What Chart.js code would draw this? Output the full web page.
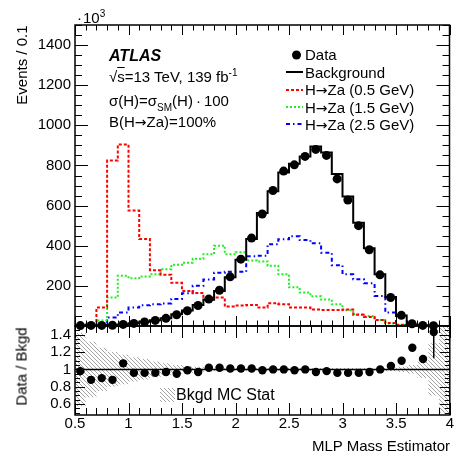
<!DOCTYPE html>
<html lang="en">
<head>
<meta charset="UTF-8">
<title>MLP Mass Estimator</title>
<script src="https://cdn.jsdelivr.net/npm/chart.js"></script>
<style>
  body { margin: 0; background: #fff; }
  #wrap { position: relative; width: 454px; height: 455px; overflow: hidden; font-family: "Liberation Sans", Arial, sans-serif; color: #000; }
  canvas { position: absolute; left: 0; }
  .t { position: absolute; font-size: 15px; line-height: 15px; white-space: nowrap; }
  .sup { position: relative; top: -6px; font-size: 10px; }
  .sub { position: relative; top: 5px; font-size: 10px; }
  .ar { font-family: "DejaVu Sans", sans-serif; font-size: 14px; }
</style>
</head>
<body>
<div id="wrap">
  <canvas id="main" width="454" height="335" style="top:0"></canvas>
  <canvas id="ratio" width="454" height="135" style="top:320px"></canvas>

  <div class="t" style="left:77px;top:10px">&middot;<span style="margin-left:1px">10</span><span class="sup">3</span></div>

  <div class="t" style="left:109px;top:48px;font-size:16px;line-height:16px;font-weight:bold;font-style:italic">ATLAS</div>
  <div class="t" style="left:109px;top:69px">&radic;<span style="text-decoration:overline">s</span>=13 TeV, 139 fb<span class="sup">-1</span></div>
  <div class="t" style="left:109px;top:93px">&sigma;(H)=&sigma;<span class="sub">SM</span>(H)&thinsp;&middot;&thinsp;100</div>
  <div class="t" style="left:109px;top:114px">B(H<span class="ar">&rarr;</span>Za)=100%</div>

  <div class="t" style="left:305px;top:47px">Data</div>
  <div class="t" style="left:305px;top:65px">Background</div>
  <div class="t" style="left:305px;top:82px">H<span class="ar">&rarr;</span>Za (0.5 GeV)</div>
  <div class="t" style="left:305px;top:100px">H<span class="ar">&rarr;</span>Za (1.5 GeV)</div>
  <div class="t" style="left:305px;top:117px">H<span class="ar">&rarr;</span>Za (2.5 GeV)</div>

  <div class="t" style="left:-39px;top:78px;width:120px;text-align:right;transform:rotate(-90deg)">Events / 0.1</div>
  <div class="t" style="left:-39px;top:359px;width:120px;text-align:center;transform:rotate(-90deg)">Data / Bkgd</div>
  <div class="t" style="right:4px;top:438px">MLP Mass Estimator</div>
  <div class="t" style="left:176px;top:387px;font-size:16px;line-height:16px">Bkgd MC Stat</div>
</div>

<script>
// bins of the MLP mass estimator (lower edges), width 0.1
const binLo = [0.5, 0.6, 0.7, 0.8, 0.9, 1.0, 1.1, 1.2, 1.3, 1.4, 1.5, 1.6, 1.7, 1.8, 1.9,
               2.0, 2.1, 2.2, 2.3, 2.4, 2.5, 2.6, 2.7, 2.8, 2.9, 3.0, 3.1, 3.2, 3.3, 3.4,
               3.5, 3.6, 3.7, 3.8, 3.9];
const binW = 0.1;

// events / 0.1, in units of 10^3
const dataEvents = [2, 3, 3, 4, 8, 13, 20, 28, 38, 56, 76, 102, 134, 178, 245,
                    333, 438, 558, 675, 772, 803, 845, 880, 850, 733, 628, 500, 380, 255, 142,
                    53, 11, 3, 1, null];
const bkgdEvents = [2, 3.5, 3.5, 4.5, 7.5, 13.5, 21, 29, 39, 59, 77, 105, 131, 175, 243,
                    330, 434, 563, 672, 765, 808, 845, 895, 865, 757, 645, 515, 388, 258, 145,
                    52, 7, 2.5, 0.8, 0.3];
const sig05 = [2, 8, 92, 825, 905, 575, 433, 278, 255, 215, 175, 165, 142, 142, 97,
               102, 105, 92, 113, 108, 92, 92, 82, 80, 80, 82, 56, 45, 30, 15,
               6, 4, 2, 1, 0];
const sig15 = [0, 2, 28, 142, 250, 238, 247, 258, 283, 305, 315, 335, 358, 400, 358,
               368, 327, 322, 300, 258, 193, 167, 148, 132, 108, 78, 58, 50, 30, 12,
               5, 3, 1, 0.5, 0];
const sig25 = [0, 1, 3, 42, 67, 92, 103, 108, 112, 135, 163, 200, 232, 265, 270,
               270, 348, 350, 408, 432, 447, 428, 412, 365, 303, 258, 233, 213, 150, 67,
               5, 2, 1, 0, 0];

// lower panel
const ratio = [0.98, 0.88, 0.90, 0.88, 1.07, 0.96, 0.96, 0.96, 0.97, 0.95, 0.99, 0.97, 1.02, 1.02, 1.01,
               1.01, 1.01, 0.99, 1.00, 1.00, 0.99, 1.00, 0.97, 0.98, 0.96, 0.96, 0.96, 0.97, 1.00, 1.04,
               1.10, 1.25, 1.12, 1.43, null];
const ratioErr = [0.05, 0.03, 0.02, 0.02, 0.015, 0, 0, 0, 0, 0, 0, 0, 0, 0, 0,
                  0, 0, 0, 0, 0, 0, 0, 0, 0, 0, 0, 0, 0, 0, 0,
                  0, 0, 0, 0.3, 0];
const bkgdStatErr = [0.42, 0.32, 0.25, 0.20, 0.17, 0.14, 0.12, 0.09, 0.07, 0.05, 0.04, 0.03, 0.025, 0.02, 0.015,
                     0.015, 0.015, 0.015, 0.015, 0.015, 0.015, 0.015, 0.015, 0.015, 0.015, 0.015, 0.015, 0.015, 0.015, 0.02,
                     0.03, 0.05, 0.10, 0.30, 0.50];

const mainYTicks = [200, 400, 600, 800, 1000, 1200, 1400];
const ratioYTicks = [0.6, 0.8, 1, 1.2, 1.4];
const xTicks = [0.5, 1, 1.5, 2, 2.5, 3, 3.5, 4];

const FONT = { family: '"Liberation Sans", Arial, sans-serif', size: 15 };
const RED = '#ff0000', GREEN = '#22ee22', BLUE = '#0000ff';

function histPoints(vals) {
  const pts = vals.map((v, i) => ({ x: binLo[i], y: v }));
  pts.push({ x: binLo[binLo.length - 1] + binW, y: vals[vals.length - 1] });
  return pts;
}
function centerPoints(vals) {
  return vals.map((v, i) => ({ x: binLo[i] + binW / 2, y: v })).filter(p => p.y !== null);
}

// hatch pattern for the MC stat band
function hatch() {
  const c = document.createElement('canvas');
  c.width = c.height = 4;
  const g = c.getContext('2d');
  g.strokeStyle = '#999';
  g.lineWidth = 0.9;
  g.beginPath();
  g.moveTo(-1, -1); g.lineTo(5, 5);
  g.moveTo(-1, 3); g.lineTo(1, 5);
  g.moveTo(3, -1); g.lineTo(5, 1);
  g.stroke();
  return g.createPattern(c, 'repeat');
}
const hatchPattern = hatch();

// ROOT style frame with inward ticks on all four sides
function framePlugin(o) {
  return {
    id: 'frame',
    afterDatasetsDraw(chart) {
      const { ctx, chartArea: a } = chart;
      const x = chart.scales.x, y = chart.scales.y;
      ctx.save();
      ctx.strokeStyle = '#000';
      ctx.lineWidth = 1;
      ctx.beginPath();
      for (let i = 0; i <= 35; i++) {
        const px = Math.round(x.getPixelForValue(0.5 + i * 0.1)) + 0.5;
        const len = i % 5 === 0 ? o.xMajor : o.xMinor;
        ctx.moveTo(px, a.bottom); ctx.lineTo(px, a.bottom - len);
        ctx.moveTo(px, a.top); ctx.lineTo(px, a.top + len);
      }
      for (let k = 1; ; k++) {
        const v = o.yFirst + (k - 1) * o.yStep;
        if (v > y.max + 1e-9) break;
        const r = v / o.yMajorStep;
        const len = Math.abs(r - Math.round(r)) < 1e-6 ? o.yMajor : o.yMinor;
        const py = Math.round(y.getPixelForValue(v)) + 0.5;
        ctx.moveTo(a.left, py); ctx.lineTo(a.left + len, py);
        ctx.moveTo(a.right, py); ctx.lineTo(a.right - len, py);
      }
      ctx.stroke();
      ctx.lineWidth = 1.5;
      ctx.strokeRect(a.left, a.top, a.right - a.left, a.bottom - a.top);
      ctx.restore();
      if (o.extra) o.extra(chart);
    }
  };
}

function lineDash(ctx, color, dash, y0) {
  ctx.beginPath();
  ctx.strokeStyle = color;
  ctx.lineWidth = 2;
  ctx.setLineDash(dash);
  ctx.moveTo(286, y0); ctx.lineTo(303, y0);
  ctx.stroke();
  ctx.setLineDash([]);
}

function mainLegend(chart) {
  const ctx = chart.ctx;
  ctx.save();
  ctx.fillStyle = '#000';
  ctx.beginPath(); ctx.arc(296.5, 55, 4.5, 0, Math.PI * 2); ctx.fill();
  lineDash(ctx, '#000', [], 72);
  lineDash(ctx, RED, [3, 2], 90);
  lineDash(ctx, GREEN, [2, 2], 107);
  lineDash(ctx, BLUE, [4, 3, 1.5, 3], 124);
  ctx.restore();
}

function ratioExtras(chart) {
  const { ctx, chartArea: a } = chart;
  const x = chart.scales.x, y = chart.scales.y;
  ctx.save();
  ctx.strokeStyle = '#000';
  ctx.lineWidth = 1.5;
  ctx.beginPath();
  ratio.forEach((r, i) => {
    if (r === null || !ratioErr[i]) return;
    const px = x.getPixelForValue(binLo[i] + binW / 2);
    const top = Math.max(a.top, y.getPixelForValue(r + ratioErr[i]));
    const bot = Math.min(a.bottom, y.getPixelForValue(r - ratioErr[i]));
    ctx.moveTo(px, top); ctx.lineTo(px, bot);
  });
  ctx.stroke();
  // legend box for the band
  ctx.fillStyle = hatchPattern;
  ctx.fillRect(160, 68, 15, 14);
  ctx.restore();
}

const commonY = (ticks, min, max) => ({
  min: min, max: max,
  afterBuildTicks: s => { s.ticks = ticks.map(v => ({ value: v })); },
  afterFit: s => { s.width = 75; s.paddingTop = 0; s.paddingBottom = 0; },
  ticks: { font: FONT, color: '#000', padding: 4, callback: v => String(v) },
  grid: { display: false, drawTicks: false },
  border: { display: false }
});

new Chart(document.getElementById('main'), {
  type: 'line',
  data: {
    datasets: [
      { label: 'Data', data: centerPoints(dataEvents), showLine: false, pointRadius: 4.5,
        pointBackgroundColor: '#000', pointBorderWidth: 0, clip: false },
      { label: 'Background', data: histPoints(bkgdEvents), stepped: true, borderColor: '#000',
        borderWidth: 2, pointRadius: 0, fill: false },
      { label: 'H→Za (0.5 GeV)', data: histPoints(sig05), stepped: true, borderColor: RED,
        borderWidth: 2, borderDash: [3, 2], pointRadius: 0, fill: false },
      { label: 'H→Za (1.5 GeV)', data: histPoints(sig15), stepped: true, borderColor: GREEN,
        borderWidth: 2, borderDash: [2, 2], pointRadius: 0, fill: false },
      { label: 'H→Za (2.5 GeV)', data: histPoints(sig25), stepped: true, borderColor: BLUE,
        borderWidth: 2, borderDash: [4, 3, 1.5, 3], pointRadius: 0, fill: false }
    ]
  },
  options: {
    responsive: false,
    animation: false,
    layout: { padding: { left: 0, right: 3, top: 25, bottom: 9 } },
    plugins: { legend: { display: false }, tooltip: { enabled: false } },
    scales: {
      x: { type: 'linear', min: 0.5, max: 4, display: false },
      y: commonY(mainYTicks, 0, 1500)
    }
  },
  plugins: [framePlugin({ xMajor: 10, xMinor: 5.5, yFirst: 50, yStep: 50, yMajorStep: 200,
                          yMajor: 13, yMinor: 7, extra: mainLegend })]
});

new Chart(document.getElementById('ratio'), {
  type: 'line',
  data: {
    datasets: [
      { label: 'Data / Bkgd', data: centerPoints(ratio), showLine: false, pointRadius: 4.2,
        pointBackgroundColor: '#000', pointBorderWidth: 0 },
      { label: 'one', data: [{ x: 0.5, y: 1 }, { x: 4, y: 1 }], borderColor: '#000',
        borderWidth: 1.5, pointRadius: 0, fill: false },
      { label: 'Bkgd MC Stat', data: histPoints(bkgdStatErr.map(e => 1 + e)), stepped: true,
        borderWidth: 0, pointRadius: 0, backgroundColor: hatchPattern, fill: '+1' },
      { label: 'band low', data: histPoints(bkgdStatErr.map(e => 1 - e)), stepped: true,
        borderWidth: 0, pointRadius: 0, fill: false }
    ]
  },
  options: {
    responsive: false,
    animation: false,
    layout: { padding: { left: 0, right: 3, top: 6, bottom: 0 } },
    plugins: { legend: { display: false }, tooltip: { enabled: false } },
    scales: {
      x: {
        type: 'linear', min: 0.5, max: 4,
        afterBuildTicks: s => { s.ticks = xTicks.map(v => ({ value: v })); },
        afterFit: s => { s.height = 40; s.paddingLeft = 0; s.paddingRight = 0; },
        ticks: { font: FONT, color: '#000', padding: 0, maxRotation: 0, autoSkip: false,
                 callback: v => String(v) },
        grid: { display: false, drawTicks: false },
        border: { display: false }
      },
      y: commonY(ratioYTicks, 0.475, 1.5)
    }
  },
  plugins: [framePlugin({ xMajor: 12, xMinor: 7, yFirst: 0.5, yStep: 0.05, yMajorStep: 0.2,
                          yMajor: 10, yMinor: 5, extra: ratioExtras })]
});
</script>
</body>
</html>
